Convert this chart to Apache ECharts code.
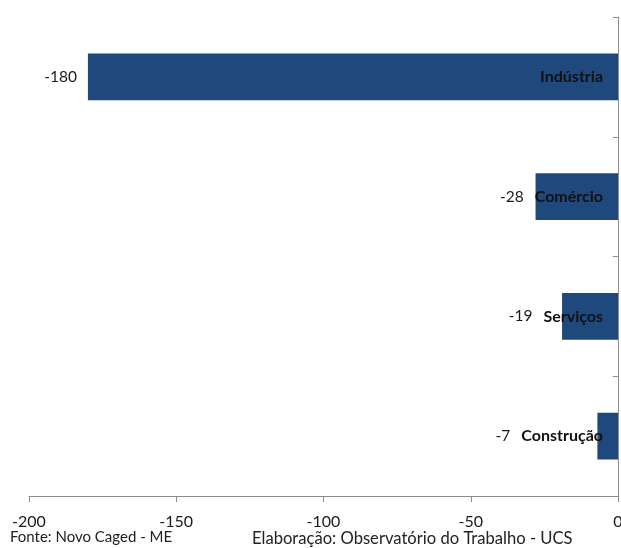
<!DOCTYPE html>
<html>
<head>
<meta charset="utf-8">
<script src="https://cdn.jsdelivr.net/npm/echarts@6/dist/echarts.min.js"></script>
<style>
html,body{margin:0;padding:0;background:#fff;}
#c{width:621px;height:548px;}
</style>
</head>
<body>
<div id="c"></div>
<script>
var categories = ['Indústria', 'Comércio', 'Serviços', 'Construção'];
var values = [-180, -28, -19, -7];
var xTicks = { min: -200, max: 0, interval: 50 };
var footerLeft = 'Fonte: Novo Caged - ME';
var footerRight = 'Elaboração: Observatório do Trabalho - UCS';

var FONT = 'Lato';
var CAT_FONT = 'bold 16px ' + FONT;
var CAT_MARGIN = 15;
var LABEL_GAP = 11;

function textWidth(txt, font) {
  var cv = document.createElement('canvas').getContext('2d');
  cv.font = font;
  return cv.measureText(txt).width;
}

var chart = echarts.init(document.getElementById('c'), null, {renderer: 'canvas'});
var baseOption = {
  backgroundColor: '#ffffff',
  animation: false,
  textStyle: {fontFamily: FONT},
  grid: {left: 29, right: 3, top: 17, bottom: 52, containLabel: false, outerBoundsMode: 'none'},
  xAxis: {
    type: 'value', min: xTicks.min, max: xTicks.max, interval: xTicks.interval,
    axisLine: {show: true, lineStyle: {color: '#8c8c8c', width: 1}},
    axisTick: {show: true, length: 6, lineStyle: {color: '#8c8c8c'}},
    splitLine: {show: false},
    axisLabel: {color: '#1a1a1a', fontSize: 16, fontFamily: FONT, margin: 18, hideOverlap: false}
  },
  yAxis: {
    type: 'category', data: categories, inverse: true, position: 'right', z: 5,
    axisLine: {show: true, onZero: false, lineStyle: {color: '#8c8c8c', width: 1}},
    axisTick: {show: true, inside: true, length: 5, lineStyle: {color: '#8c8c8c'}},
    axisLabel: {inside: true, margin: CAT_MARGIN, color: '#111', fontWeight: 'bold', fontSize: 16, fontFamily: FONT}
  },
  series: [{
    type: 'bar', data: values, barWidth: '39%',
    itemStyle: {color: '#1F497D'},
    label: {show: true, position: 'left', distance: LABEL_GAP, color: '#1a1a1a', fontSize: 15.5, fontFamily: FONT}
  }],
  graphic: [
    {type: 'text', left: 10, top: 530, style: {text: footerLeft, font: '15px ' + FONT, fill: '#222'}},
    {type: 'text', left: 252, top: 530, style: {text: footerRight, font: '16.6px ' + FONT, fill: '#222'}}
  ]
};
chart.setOption(baseOption);

// keep value labels clear of the category labels drawn inside the plot
var axisRightPx = chart.convertToPixel({xAxisIndex: 0}, xTicks.max);
var dataItems = values.map(function (v, i) {
  var barLeft = chart.convertToPixel({xAxisIndex: 0}, v);
  var catLeft = axisRightPx - CAT_MARGIN - textWidth(categories[i], CAT_FONT);
  var d = LABEL_GAP;
  if (catLeft - LABEL_GAP < barLeft) d = barLeft - catLeft + LABEL_GAP;
  return {value: v, label: {distance: d}};
});
chart.setOption({series: [{data: dataItems}]});
</script>
</body>
</html>
